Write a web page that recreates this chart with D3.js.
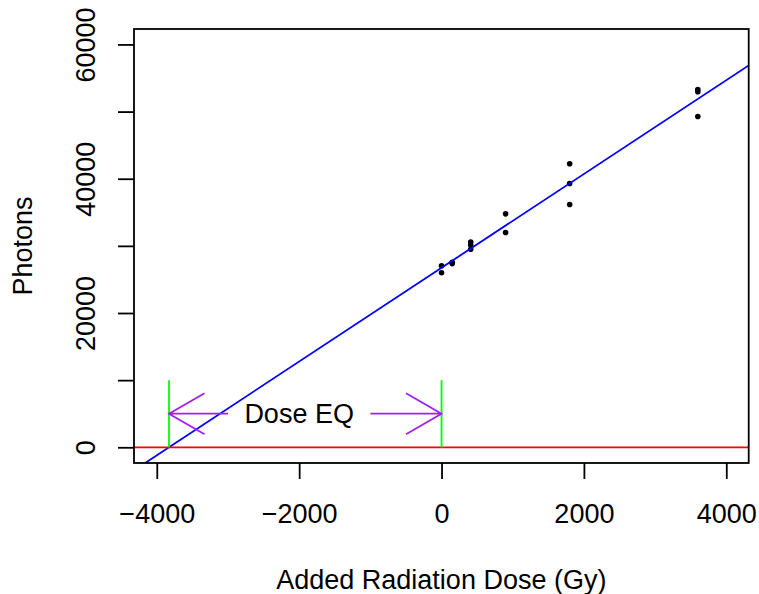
<!DOCTYPE html>
<html>
<head>
<meta charset="utf-8">
<script src="https://cdn.jsdelivr.net/npm/d3@7"></script>
<style>
body { margin: 0; background: #fff; }
text { font-family: "Liberation Sans", Arial, Helvetica, sans-serif; }
</style>
</head>
<body>
<svg id="chart"></svg>
<script>
// dose (Gy) and photon counts
const dose = [0, 0, 150, 150, 410, 410, 410, 900, 900, 1800, 1800, 1800, 3600, 3600, 3600];
const photons = [27030, 25990, 27570, 27360, 30580, 30130, 29490, 34770, 31980, 42220, 39290, 36150, 53300, 52950, 49260];

// fitted line (abline)
const intercept = 26740;
const slope = 6.985;

const xTicks = [-4000, -2000, 0, 2000, 4000];
const yTicks = [0, 10000, 20000, 30000, 40000, 50000, 60000];
const yLabelled = [0, 20000, 40000, 60000];

const doseEq = -intercept / slope;
const fontSize = "27px";

const W = 759, H = 594;
const margin = {top: 29, right: 10.3, bottom: 131, left: 134};
const width = W - margin.left - margin.right;
const height = H - margin.top - margin.bottom;

const svg = d3.select("#chart")
    .attr("width", W)
    .attr("height", H);

const g = svg.append("g")
    .attr("transform", "translate(" + margin.left + "," + margin.top + ")");

const x = d3.scaleLinear()
    .domain([-4320, 4315])
    .range([0, width]);

const y = d3.scaleLinear()
    .domain([-2340, 62300])
    .range([height, 0]);

g.append("clipPath").attr("id", "clip")
    .append("rect")
    .attr("width", width)
    .attr("height", height);

const plot = g.append("g").attr("clip-path", "url(#clip)");

// points
plot.selectAll(".dot")
    .data(dose.map((d, i) => ({x: d, y: photons[i]})))
    .enter().append("circle")
    .attr("class", "dot")
    .attr("r", 2.8)
    .attr("cx", d => x(d.x))
    .attr("cy", d => y(d.y))
    .attr("fill", "#000");

// regression line
const xd = x.domain();
plot.append("line")
    .attr("x1", x(xd[0])).attr("y1", y(intercept + slope * xd[0]))
    .attr("x2", x(xd[1])).attr("y2", y(intercept + slope * xd[1]))
    .attr("stroke", "#0000ff")
    .attr("stroke-width", 1.8);

// zero line
plot.append("line")
    .attr("x1", 0).attr("x2", width)
    .attr("y1", y(0)).attr("y2", y(0))
    .attr("stroke", "#ff0000")
    .attr("stroke-width", 1.8);

// green segments
[doseEq, 0].forEach(v => {
    plot.append("line")
        .attr("x1", x(v)).attr("x2", x(v))
        .attr("y1", y(0)).attr("y2", y(10000))
        .attr("stroke", "#00ff00")
        .attr("stroke-width", 1.8);
});

// arrows
function arrow(x0, x1, yv) {
    const px0 = x(x0), px1 = x(x1), py = y(yv);
    const len = 41, ang = Math.PI / 6;
    const dir = Math.sign(px1 - px0);
    const path = d3.path();
    path.moveTo(px0, py);
    path.lineTo(px1, py);
    path.moveTo(px1 - dir * len * Math.cos(ang), py - len * Math.sin(ang));
    path.lineTo(px1, py);
    path.lineTo(px1 - dir * len * Math.cos(ang), py + len * Math.sin(ang));
    plot.append("path")
        .attr("d", path.toString())
        .attr("fill", "none")
        .attr("stroke", "#a020f0")
        .attr("stroke-width", 1.8);
}
arrow(-3000, doseEq, 5000);
arrow(-1000, 0, 5000);

g.append("text")
    .attr("x", x(-2000))
    .attr("y", y(5000))
    .attr("dy", "0.36em")
    .attr("text-anchor", "middle")
    .style("font-size", fontSize)
    .text("Dose EQ");

// x-axis
const xAxis = g.append("g")
    .attr("transform", "translate(0," + height + ")")
    .call(d3.axisBottom(x).tickValues(xTicks).tickSize(16).tickSizeOuter(0)
        .tickFormat(d3.format("d")));
xAxis.select(".domain").remove();
xAxis.selectAll("line").attr("stroke", "#000").attr("stroke-width", 1.8);
xAxis.selectAll("text")
    .attr("y", 60)
    .attr("dy", 0)
    .attr("fill", "#000")
    .style("font-size", fontSize);

// y-axis
const yAxis = g.append("g")
    .call(d3.axisLeft(y).tickValues(yTicks).tickSize(16).tickSizeOuter(0)
        .tickFormat(d => yLabelled.includes(d) ? d : ""));
yAxis.select(".domain").remove();
yAxis.selectAll("line").attr("stroke", "#000").attr("stroke-width", 1.8);
yAxis.selectAll("text")
    .attr("transform", "rotate(-90)")
    .attr("x", 0)
    .attr("y", -39)
    .attr("dy", 0)
    .attr("text-anchor", "middle")
    .attr("fill", "#000")
    .style("font-size", fontSize);

// box
g.append("rect")
    .attr("width", width)
    .attr("height", height)
    .attr("fill", "none")
    .attr("stroke", "#000")
    .attr("stroke-width", 1.8);

// text label for the x axis
svg.append("text")
    .attr("x", margin.left + width / 2)
    .attr("y", 589)
    .attr("text-anchor", "middle")
    .style("font-size", fontSize)
    .text("Added Radiation Dose (Gy)");

// text label for the y axis
svg.append("text")
    .attr("transform", "rotate(-90)")
    .attr("x", -(margin.top + height / 2))
    .attr("y", 32)
    .attr("text-anchor", "middle")
    .style("font-size", fontSize)
    .text("Photons");
</script>
</body>
</html>
